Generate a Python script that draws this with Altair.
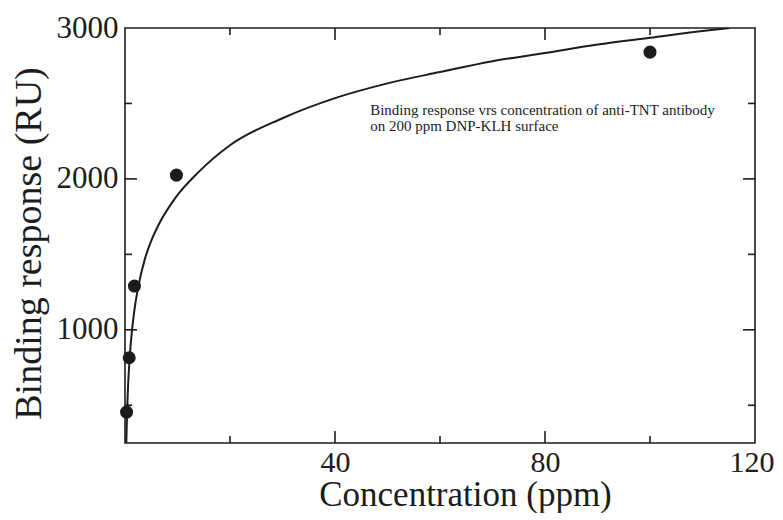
import altair as alt
import pandas as pd

# measured data points
conc_pts = [0.3, 0.8, 1.8, 9.8, 100]
resp_pts = [455, 815, 1290, 2025, 2840]

# fitted curve
conc_fit = [0.25, 0.27, 0.32, 0.44, 0.6, 0.89, 1.3, 1.52, 2.0, 2.5, 3.75, 5.0, 6.6, 9.5, 14,
            20, 30, 40, 50, 60, 70, 80, 90, 100, 110, 115.2]
resp_fit = [250, 280, 355, 500, 640, 815, 985, 1055, 1180, 1280, 1465, 1590, 1710, 1870, 2045,
            2223, 2402, 2535, 2633, 2708, 2780, 2834, 2890, 2935, 2980, 3000]

x_major = [40, 80]
x_minor = [20, 60, 100]
y_major = [1000, 2000]
y_minor = [500, 1500, 2500]

x_labels = [40, 80, 120]
y_labels = [1000, 2000, 3000]

note_lines = ["Binding response vrs concentration of anti-TNT antibody",
              "on 200 ppm DNP-KLH surface"]
note_x = [46.7]
note_y = [2500]

W, H = 630, 415
FONT = "Liberation Serif"
INK = "#1c1c1c"

xs = alt.Scale(domain=[0, 120], nice=False, zero=False)
ys = alt.Scale(domain=[250, 3000], nice=False, zero=False)

pts = pd.DataFrame({"c": conc_pts, "r": resp_pts})
fit = pd.DataFrame({"c": conc_fit, "r": resp_fit})

x_axis = alt.Axis(values=x_labels, format="d", title="Concentration (ppm)", ticks=False,
                  domain=False, grid=False, labelFont=FONT, labelFontSize=30, labelColor=INK,
                  labelPadding=4, titleFont=FONT, titleFontSize=35, titleFontWeight="normal",
                  titleColor=INK, titleX=340, titleY=51, titleBaseline="middle",
                  titleAlign="center", labelFlush=True, labelFlushOffset=19,
                  labelOverlap=False)
y_axis = alt.Axis(values=y_labels, format="d", title="Binding response (RU)", ticks=False,
                  domain=False, grid=False, labelFont=FONT, labelFontSize=31, labelColor=INK,
                  labelPadding=7, titleFont=FONT, titleFontSize=38, titleFontWeight="normal",
                  titleColor=INK, titleAngle=270, titleX=-96, titleY=215,
                  titleBaseline="middle", titleAlign="center", labelFlush=False,
                  labelOverlap=False)

X = lambda f: alt.X(f, scale=xs, axis=x_axis)
Y = lambda f: alt.Y(f, scale=ys, axis=y_axis)

line = alt.Chart(fit).mark_line(color=INK, strokeWidth=2, interpolate="monotone", clip=True).encode(
    x=X("c:Q"), y=Y("r:Q"),
)
dots = alt.Chart(pts).mark_circle(color=INK, size=170, opacity=1).encode(
    x=X("c:Q"), y=Y("r:Q"),
)

def xticks(vals, length):
    d = pd.DataFrame({"v": vals})
    bottom = alt.Chart(d).mark_rule(color=INK, strokeWidth=1.6).encode(
        x=X("v:Q"), y=alt.value(H), y2=alt.value(H - length))
    top = alt.Chart(d).mark_rule(color=INK, strokeWidth=1.6).encode(
        x=X("v:Q"), y=alt.value(0), y2=alt.value(length))
    return [bottom, top]

def yticks(vals, length):
    d = pd.DataFrame({"v": vals})
    left = alt.Chart(d).mark_rule(color=INK, strokeWidth=1.6).encode(
        y=Y("v:Q"), x=alt.value(0), x2=alt.value(length))
    right = alt.Chart(d).mark_rule(color=INK, strokeWidth=1.6).encode(
        y=Y("v:Q"), x=alt.value(W), x2=alt.value(W - length))
    return [left, right]

note = alt.Chart(pd.DataFrame({"x": note_x, "y": note_y, "t": [note_lines]})).mark_text(
    font=FONT, fontSize=15, color=INK, align="left", baseline="top", lineHeight=16
).encode(x=X("x:Q"), y=Y("y:Q"), text="t")

layers = ([line, dots] + xticks(x_major, 12) + xticks(x_minor, 7)
          + yticks(y_major, 12) + yticks(y_minor, 7) + [note])

chart = alt.layer(*layers).properties(
    width=W, height=H,
    autosize=alt.AutoSizeParams(type="none"),
    padding={"left": 117, "top": 20, "right": 20, "bottom": 70},
    background="white",
).configure(font=FONT).configure_view(stroke=INK, strokeWidth=1.6).configure_axis(
    labelFont=FONT, titleFont=FONT
)

chart.save("out.html", embed_options={"renderer": "svg", "actions": False})
